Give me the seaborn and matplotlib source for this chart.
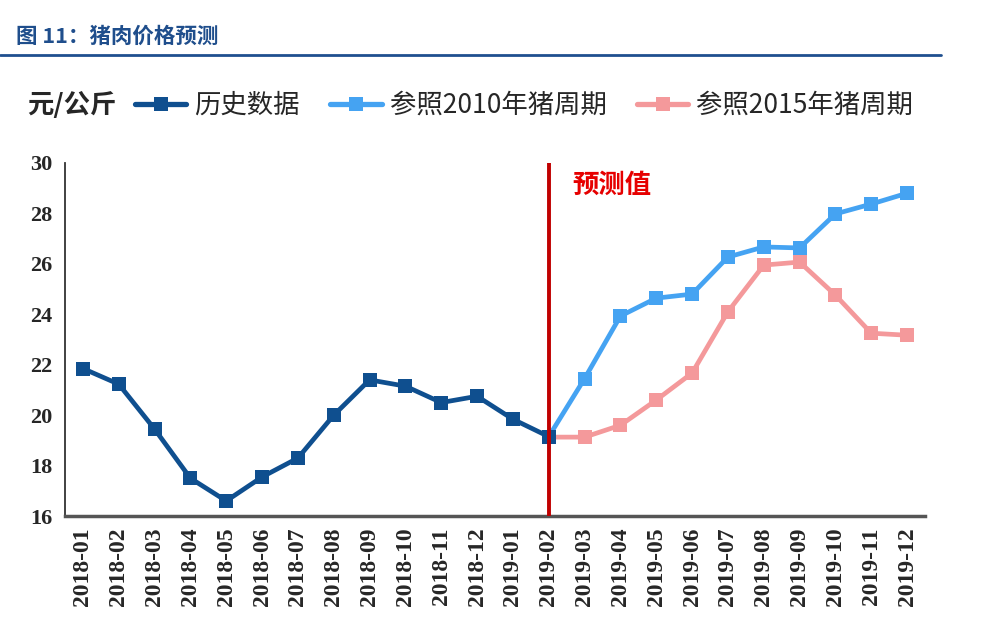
import numpy as np
import pandas as pd
import matplotlib.pyplot as plt
import seaborn as sns
from matplotlib.lines import Line2D

months = ["2018-01", "2018-02", "2018-03", "2018-04", "2018-05", "2018-06",
          "2018-07", "2018-08", "2018-09", "2018-10", "2018-11", "2018-12",
          "2019-01", "2019-02", "2019-03", "2019-04", "2019-05", "2019-06",
          "2019-07", "2019-08", "2019-09", "2019-10", "2019-11", "2019-12"]

# 历史数据 2018-01 .. 2019-02
hist = [21.85, 21.23, 19.45, 17.5, 16.6, 17.55, 18.3, 20.0, 21.4, 21.15,
        20.5, 20.75, 19.84, 19.15]
# 参照2010年猪周期 2019-02 .. 2019-12
ref2010 = [19.15, 21.45, 23.93, 24.64, 24.8, 26.27, 26.67, 26.63, 27.98, 28.37, 28.8]
# 参照2015年猪周期 2019-02 .. 2019-12
ref2015 = [19.13, 19.13, 19.6, 20.6, 21.67, 24.1, 25.95, 26.07, 24.76, 23.25, 23.17]

names = ["历史数据", "参照2010年猪周期", "参照2015年猪周期"]
colors = ["#0f4f8f", "#45a3f2", "#f4999b"]

df = pd.concat([
    pd.DataFrame({"month": months[:14], "price": hist, "series": names[0]}),
    pd.DataFrame({"month": months[13:], "price": ref2010, "series": names[1]}),
    pd.DataFrame({"month": months[13:], "price": ref2015, "series": names[2]}),
])
df["x"] = df["month"].map({m: i for i, m in enumerate(months)})

sns.set_style("white")
plt.rcParams["font.family"] = ["Liberation Serif", "Noto Sans CJK SC", "DejaVu Sans"]
cjk = ["Noto Sans CJK SC", "DejaVu Sans"]

fig = plt.figure(figsize=(9.89, 6.34), dpi=100)
ax = fig.add_axes([0.0657, 0.186, 0.8696, 0.557])

# 先画2015, 再画2010, 最后历史
for name, col in zip(names[::-1], colors[::-1]):
    d = df[df["series"] == name]
    sns.lineplot(data=d, x="x", y="price", ax=ax, color=col, linewidth=3.4,
                 marker="s", markersize=10, markeredgewidth=0, legend=False)

# 预测分界线
ax.axvline(13, color="#c00000", linewidth=2.8, zorder=5)
ax.text(13.65, 29.1, "预测值", color="#e60000", fontsize=19, fontweight="bold",
        family=cjk, va="center")

ax.set_xlim(-0.5, 23.5)
ax.set_ylim(16, 30)
ax.set_yticks(range(16, 31, 2))
ax.set_xticks(np.arange(-0.5, 24, 1), minor=False)
ax.set_xticklabels([])
ax.set_xticks(range(24), minor=True)
ax.set_xticklabels(months, minor=True, rotation=90, fontsize=17, fontweight="bold")
ax.tick_params(axis="x", which="minor", length=0, pad=8)
ax.tick_params(axis="x", which="major", direction="out", length=7, width=1.2, color="#333333")
ax.tick_params(axis="y", direction="out", length=7, width=1.2, color="#333333",
               labelsize=16, pad=2)
for lab in ax.get_yticklabels():
    lab.set_fontweight("bold")
ax.set_xlabel("")
ax.set_ylabel("")
for s in ["top", "right"]:
    ax.spines[s].set_visible(False)
ax.spines["left"].set_color("#333333")
ax.spines["left"].set_linewidth(1.3)
ax.spines["bottom"].set_color("#555555")
ax.spines["bottom"].set_linewidth(2.5)

# 标题
fig.text(0.016, 0.942, "图 11：猪肉价格预测", color="#1f4e8c", fontsize=15.5,
         fontweight="bold", family=cjk, va="center")
fig.add_artist(Line2D([0, 0.951], [0.913, 0.913], color="#1f4f8f", linewidth=2))

# 图例
fig.text(0.028, 0.834, "元/公斤", fontsize=19, family=cjk,
         va="center", fontweight="bold")
handles = [Line2D([], [], color=c, linewidth=3.8, marker="s", markersize=10,
                  markeredgewidth=0) for c in colors]
fig.legend(handles, names, loc="center left", bbox_to_anchor=(0.1365, 0.834),
           ncol=3, frameon=False, borderpad=0, borderaxespad=0,
           handlelength=1.95, handletextpad=0.3, columnspacing=1.15,
           prop={"family": cjk, "size": 19})

fig.savefig("out.png", dpi=100)
